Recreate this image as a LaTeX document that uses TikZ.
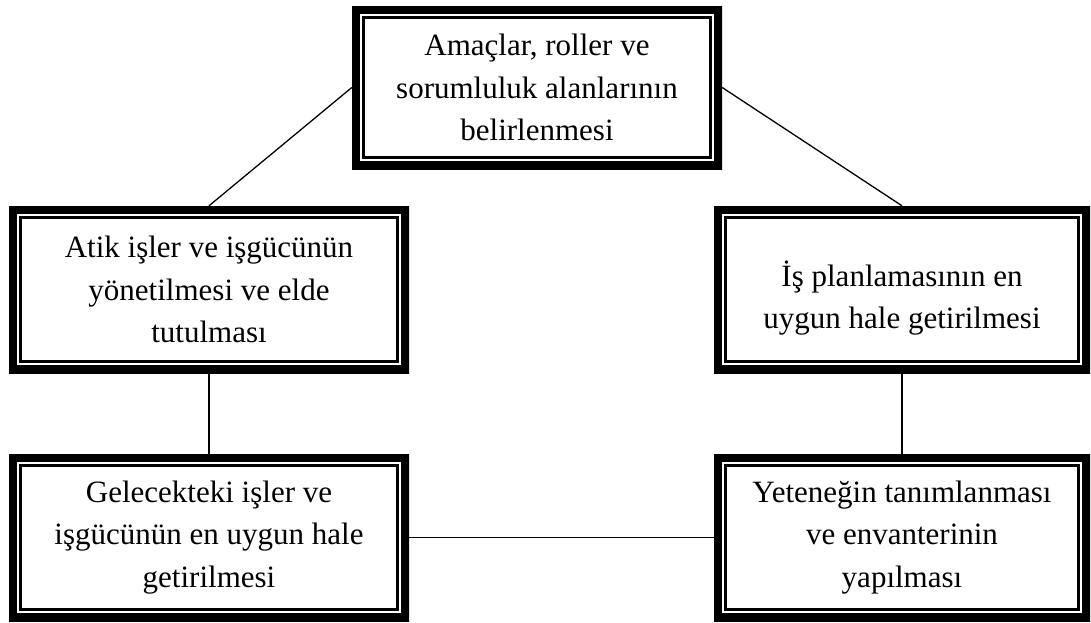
\documentclass[tikz,border=0pt]{standalone}
\usepackage{fontspec}
\setmainfont{Liberation Serif}
\begin{document}
\begin{tikzpicture}[x=1pt,y=-1pt,
  framebox/.style={rectangle, inner sep=0pt, align=center,
    font=\fontsize{31}{42.5}\selectfont,
    path picture={
      \draw[line width=16pt] (path picture bounding box.north west) rectangle (path picture bounding box.south east);
      \draw[line width=2.4pt] ([shift={(11.6pt,-11.6pt)}]path picture bounding box.north west) rectangle ([shift={(-11.6pt,11.6pt)}]path picture bounding box.south east);
    }},
  link/.style={line width=1.3pt}]
\useasboundingbox (0,0) rectangle (1091,622);
\fill[white] (0,0) rectangle (1091,622);

\node[framebox, minimum width=370pt, minimum height=163pt] (top) at (537,87.5)
  {Amaçlar, roller ve\\ sorumluluk alanlarının\\ belirlenmesi};
\node[framebox, minimum width=400pt, minimum height=167pt] (lm) at (209,289.5)
  {Atik işler ve işgücünün\\ yönetilmesi ve elde\\ tutulması};
\node[framebox, minimum width=376pt, minimum height=167pt] (rm) at (902,289.5)
  {\mbox{}\\ İş planlamasının en\\ uygun hale getirilmesi};
\node[framebox, minimum width=400pt, minimum height=167pt] (lb) at (209,537.5)
  {Gelecekteki işler ve\\ işgücünün en uygun hale\\ getirilmesi};
\node[framebox, minimum width=376pt, minimum height=167pt] (rb) at (902,537.5)
  {Yeteneğin tanımlanması\\ ve envanterinin\\ yapılması};

\draw[link] (top.west) -- (lm.north);
\draw[link] (top.east) -- (rm.north);
\draw[link] (lm.south) -- (lb.north);
\draw[link] (rm.south) -- (rb.north);
\draw[link] (lb.east) -- (rb.west);
\end{tikzpicture}
\end{document}
